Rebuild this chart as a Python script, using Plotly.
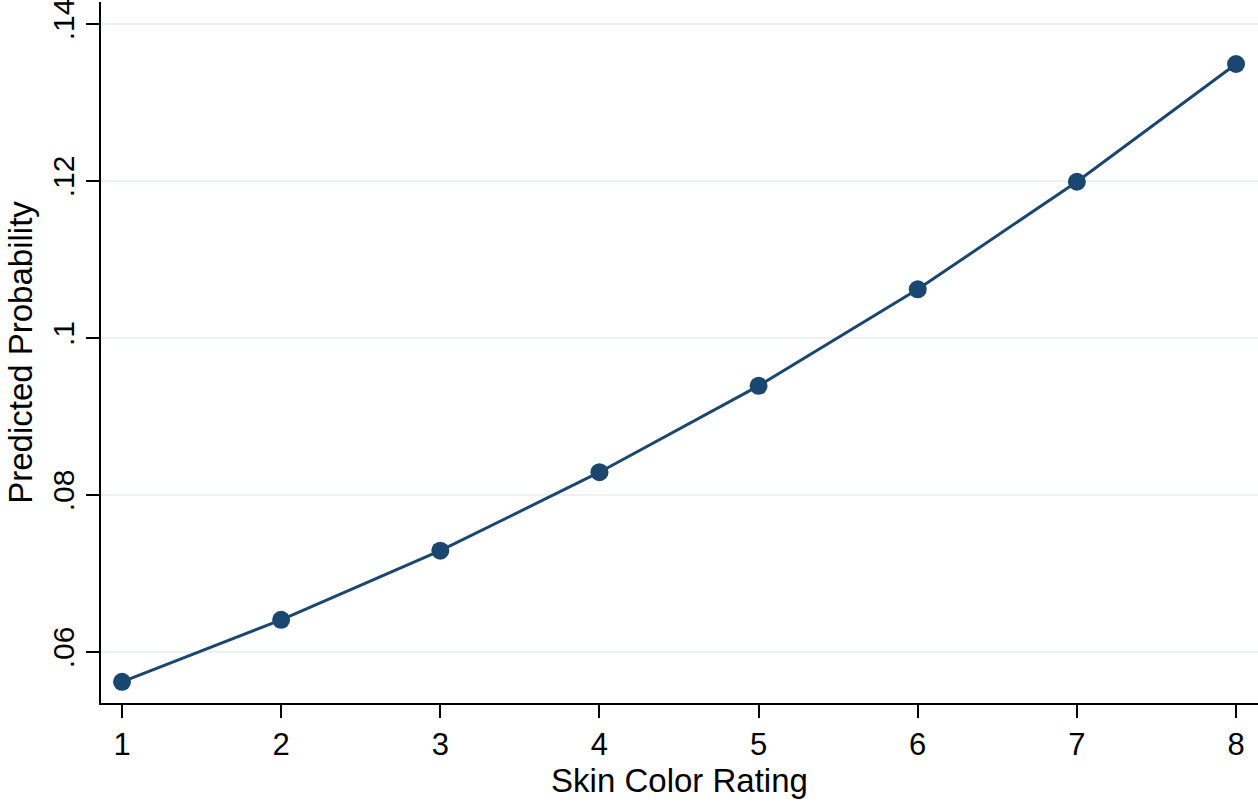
import plotly.graph_objects as go

skin_rating = [1, 2, 3, 4, 5, 6, 7, 8]
pred_prob = [0.0562, 0.0641, 0.0729, 0.0829, 0.0939, 0.1062, 0.1199, 0.1349]
y_ticks = [0.06, 0.08, 0.10, 0.12, 0.14]
y_ticklabels = [".06", ".08", ".1", ".12", ".14"]

fig = go.Figure()
fig.add_trace(go.Scatter(
    x=skin_rating, y=pred_prob, mode="lines+markers",
    line=dict(color="#1a476f", width=3),
    marker=dict(color="#1a476f", size=18),
    showlegend=False,
))

FF = "Liberation Sans"
x_tick_font = dict(family=FF, size=31, color="black")
y_tick_font = dict(family=FF, size=30, color="black")
title_font = dict(family=FF, size=33, color="black")

fig.update_layout(
    width=1258, height=806,
    margin=dict(l=101, r=0, t=2, b=103),
    paper_bgcolor="white", plot_bgcolor="white",
    font=dict(family=FF, size=33, color="black"),
    xaxis=dict(
        range=[0.868, 8.138], tickvals=skin_rating,
        ticks="outside", ticklen=13, tickwidth=2, tickcolor="black",
        showline=True, linecolor="black", linewidth=2,
        showgrid=False, zeroline=False, automargin=False,
        ticklabeloverflow="allow",
        title=dict(text="Skin Color Rating", standoff=2, font=title_font),
        tickfont=x_tick_font,
    ),
    yaxis=dict(
        range=[0.0535, 0.1428], tickvals=y_ticks, ticktext=y_ticklabels,
        tickangle=-90, automargin=False, ticklabeloverflow="allow",
        ticks="outside", ticklen=13, tickwidth=2, tickcolor="black",
        showline=True, linecolor="black", linewidth=2,
        showgrid=True, gridcolor="#eaf2f3", gridwidth=2, zeroline=False,
        title=dict(text="Predicted Probability", standoff=4, font=title_font),
        tickfont=y_tick_font,
    ),
)
fig.write_html(
    "out.html",
    config={"displayModeBar": False},
    post_script="document.body.style.margin='0';",
)
